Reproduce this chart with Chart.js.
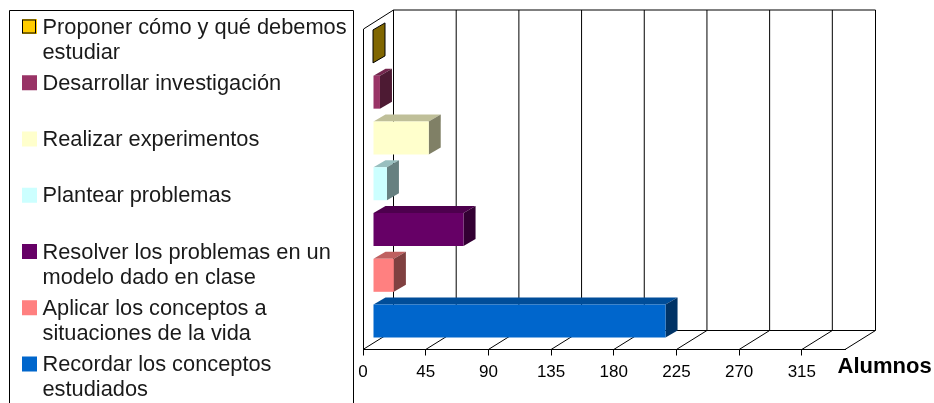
<!DOCTYPE html>
<html>
<head>
<meta charset="utf-8">
<script src="https://cdn.jsdelivr.net/npm/chart.js@4"></script>
<style>
html, body { margin: 0; padding: 0; background: #ffffff; overflow: hidden; }
canvas { display: block; }
</style>
</head>
<body>
<canvas id="grafico" width="934" height="403"></canvas>
<script>
// datos
var categorias = [
    'Proponer cómo y qué debemos estudiar',
    'Desarrollar investigación',
    'Realizar experimentos',
    'Plantear problemas',
    'Resolver los problemas en un modelo dado en clase',
    'Aplicar los conceptos a situaciones de la vida',
    'Recordar los conceptos estudiados'
];
var alumnos = [0, 5, 40, 10, 65, 15, 210];
var ticksX = [0, 45, 90, 135, 180, 225, 270, 315];
var maxX = 346;
var tituloEje = 'Alumnos';

// leyenda partida en lineas como en el original
var lineasLeyenda = [
    ['Proponer cómo y qué debemos', 'estudiar'],
    ['Desarrollar investigación'],
    ['Realizar experimentos'],
    ['Plantear problemas'],
    ['Resolver los problemas en un', 'modelo dado en clase'],
    ['Aplicar los conceptos a', 'situaciones de la vida'],
    ['Recordar los conceptos', 'estudiados']
];

var colores = ['#FFCC00', '#993366', '#FFFFCC', '#CCFFFF', '#660066', '#FF8080', '#0066CC'];
var coloresLado = ['#806600', '#4D1A33', '#808066', '#668080', '#330033', '#804040', '#003366'];
var coloresTecho = ['#BF9900', '#73264D', '#BFBF99', '#99BFBF', '#4D004D', '#BF6060', '#004D99'];

var FUENTE = '"Liberation Sans", Arial, sans-serif';

// desplazamiento de la pared del fondo y de las barras dentro de la profundidad
var fondoX = 30.5, fondoY = -19;
var barraX = 10, barraY = -5.5;
var profX = 12, profY = -7;

function linea(ctx, x1, y1, x2, y2) {
    ctx.beginPath();
    ctx.moveTo(x1, y1);
    ctx.lineTo(x2, y2);
    ctx.stroke();
}

function poligono(ctx, puntos, relleno) {
    ctx.beginPath();
    ctx.moveTo(puntos[0], puntos[1]);
    for (var i = 2; i < puntos.length; i += 2) {
        ctx.lineTo(puntos[i], puntos[i + 1]);
    }
    ctx.closePath();
    ctx.fillStyle = relleno;
    ctx.fill();
}

var plugin3d = {
    id: 'plugin3d',
    beforeDatasetsDraw: function (chart) {
        var ctx = chart.ctx;
        var area = chart.chartArea;
        var x = chart.scales.x;
        ctx.save();
        ctx.strokeStyle = '#000000';
        ctx.lineWidth = 1;

        // paredes: lineas verticales del fondo y diagonales del suelo
        ticksX.concat([maxX]).forEach(function (v) {
            var px = x.getPixelForValue(v);
            linea(ctx, px + fondoX, area.top + fondoY, px + fondoX, area.bottom + fondoY);
            linea(ctx, px, area.bottom, px + fondoX, area.bottom + fondoY);
        });
        linea(ctx, area.left + fondoX, area.top + fondoY, area.right + fondoX, area.top + fondoY);
        linea(ctx, area.left + fondoX, area.bottom + fondoY, area.right + fondoX, area.bottom + fondoY);
        linea(ctx, area.left + 0.5, area.top, area.left + 0.5, area.bottom);
        linea(ctx, area.left + 0.5, area.top, area.left + fondoX, area.top + fondoY);
        ctx.restore();

        // caras de cada barra, las barras se pintan con el mismo desplazamiento
        ctx.save();
        ctx.translate(barraX, barraY);
        chart.getDatasetMeta(0).data.forEach(function (barra, i) {
            var arriba = barra.y - barra.height / 2;
            var abajo = barra.y + barra.height / 2;
            poligono(ctx, [barra.base, arriba, barra.x, arriba, barra.x + profX, arriba + profY, barra.base + profX, arriba + profY], coloresTecho[i]);
            poligono(ctx, [barra.x, arriba, barra.x + profX, arriba + profY, barra.x + profX, abajo + profY, barra.x, abajo], coloresLado[i]);
            if (alumnos[i] === 0) {
                // barra sin valor: solo queda el contorno
                ctx.strokeStyle = '#000000';
                ctx.lineWidth = 1;
                ctx.beginPath();
                ctx.moveTo(barra.x, arriba);
                ctx.lineTo(barra.x + profX, arriba + profY);
                ctx.lineTo(barra.x + profX, abajo + profY);
                ctx.lineTo(barra.x, abajo);
                ctx.closePath();
                ctx.stroke();
            }
        });
    },
    afterDatasetsDraw: function (chart) {
        chart.ctx.restore();
    },
    afterDraw: function (chart) {
        var ctx = chart.ctx;
        ctx.save();

        // recuadro de la leyenda, abierto por abajo
        ctx.strokeStyle = '#000000';
        ctx.lineWidth = 1;
        ctx.beginPath();
        ctx.moveTo(9.5, 403);
        ctx.lineTo(9.5, 10.5);
        ctx.lineTo(353.5, 10.5);
        ctx.lineTo(353.5, 403);
        ctx.stroke();

        ctx.font = '21.8px ' + FUENTE;
        ctx.textBaseline = 'middle';
        ctx.textAlign = 'left';
        lineasLeyenda.forEach(function (lineas, i) {
            var y = 26.5 + i * 56.25;
            ctx.fillStyle = colores[i];
            ctx.fillRect(22, y - 7.5, 15, 15);
            if (alumnos[i] === 0) {
                ctx.strokeRect(22.5, y - 6.5, 13, 13);
            }
            ctx.fillStyle = '#1a1a1a';
            lineas.forEach(function (texto, n) {
                ctx.fillText(texto, 42.5, y + 1 + n * 25);
            });
        });

        ctx.font = 'bold 22px ' + FUENTE;
        ctx.fillStyle = '#000000';
        ctx.fillText(tituloEje, 837.5, 367);
        ctx.restore();
    }
};

var ctx = document.getElementById('grafico').getContext('2d');

var chart = new Chart(ctx, {
    type: 'bar',
    data: {
        labels: categorias,
        datasets: [{
                data: alumnos,
                backgroundColor: colores,
                borderWidth: 0,
                barPercentage: 0.72,
                categoryPercentage: 1,
                clip: false
            }]
    },
    options: {
        indexAxis: 'y',
        responsive: false,
        animation: false,
        layout: {
            padding: {left: 363, right: 89, top: 29, bottom: 0}
        },
        plugins: {
            legend: {display: false},
            tooltip: {enabled: false}
        },
        scales: {
            x: {
                min: 0,
                max: maxX,
                afterBuildTicks: function (eje) {
                    eje.ticks = ticksX.map(function (v) {
                        return {value: v};
                    });
                },
                afterFit: function (eje) {
                    eje.height = 53.5;
                },
                grid: {
                    drawOnChartArea: false,
                    color: '#000000',
                    tickLength: 6
                },
                border: {color: '#000000', width: 1},
                ticks: {
                    autoSkip: false,
                    maxRotation: 0,
                    color: '#000000',
                    padding: 7,
                    font: {family: FUENTE, size: 17}
                }
            },
            y: {display: false}
        }
    },
    plugins: [plugin3d]
});
</script>
</body>
</html>
